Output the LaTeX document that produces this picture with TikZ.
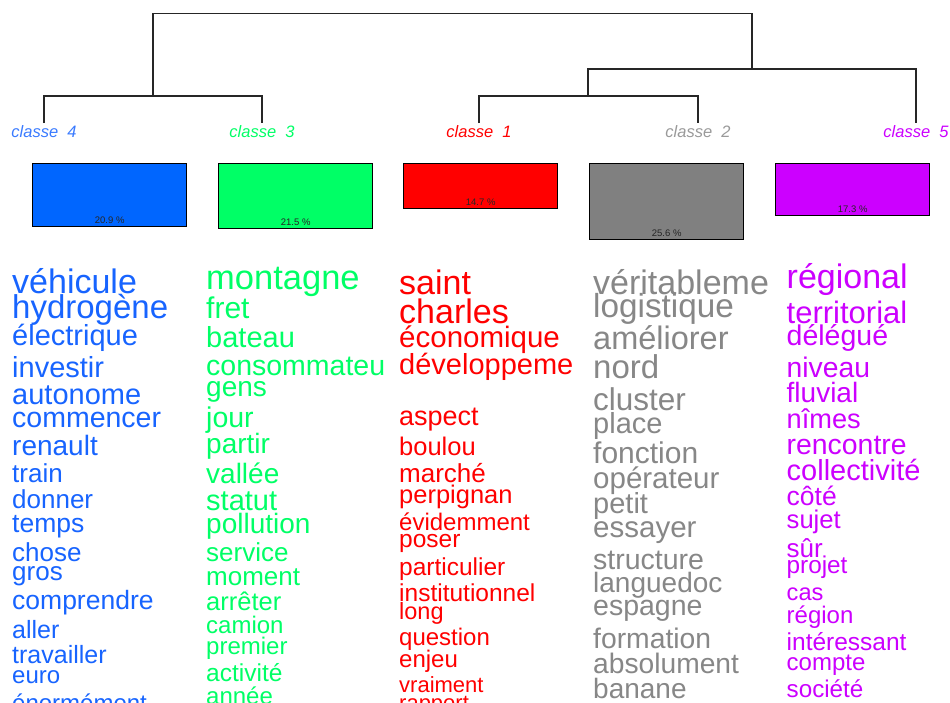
\documentclass[tikz,border=0pt]{standalone}
\usepackage{fontspec}
\setmainfont{Liberation Sans}
\newcommand\fsz[1]{\fontsize{#1}{#1}\selectfont}
\definecolor{cblue}{HTML}{0066FF}
\definecolor{tblue}{HTML}{1764FF}
\definecolor{cgreen}{HTML}{00FF66}
\definecolor{cred}{HTML}{FF0000}
\definecolor{cgray}{HTML}{808080}
\definecolor{tgray}{HTML}{878787}
\definecolor{lgray}{HTML}{9A9A9A}
\definecolor{cpurple}{HTML}{CC00FF}
\begin{document}
\begin{tikzpicture}[x=1pt,y=-1pt,
  tree/.style={line width=1.3pt,black!85},
  cls/.style={font=\fsz{16.5}\itshape,inner sep=0,anchor=base},
  bar/.style={draw=black,line width=1.4pt,anchor=north west,inner sep=0,minimum width=154pt},
  pct/.style={font=\fsz{9.5},inner sep=0,anchor=base,text=black!85},
  wrd/.style={inner sep=0,anchor=base west}]
\useasboundingbox (0,0) rectangle (950,702);
\fill[white] (0,0) rectangle (950,702);
% dendrogram
\coordinate (l4) at (44,123);
\coordinate (l3) at (262,123);
\coordinate (l1) at (479,123);
\coordinate (l2) at (698,123);
\coordinate (l5) at (916,123);
\coordinate (j43) at (153,96);
\coordinate (j12) at (588,96);
\coordinate (j125) at (752,69);
\coordinate (jtop) at (452,13.5);
\draw[tree] (l4) |- (j43) -| (l3);
\draw[tree] (l1) |- (j12) -| (l2);
\draw[tree] (j12) |- (j125) -| (l5);
\draw[tree] (j43) |- (jtop) -| (j125);
% class labels
\node[cls,text=tblue!85] (k4) at (44,137) {classe~~4};
\node[cls,text=cgreen] (k3) at (262,137) {classe~~3};
\node[cls,text=cred] (k1) at (479,137) {classe~~1};
\node[cls,text=lgray] (k2) at (698,137) {classe~~2};
\node[cls,text=cpurple] (k5) at (916,137) {classe~~5};
% bars
\node[bar,fill=cblue,minimum height=63pt] (b4) at (32,163) {};
\node[bar,fill=cgreen,minimum height=65pt] (b3) at (218,163) {};
\node[bar,fill=cred,minimum height=45pt] (b1) at (403,163) {};
\node[bar,fill=cgray,minimum height=76pt] (b2) at (589,163) {};
\node[bar,fill=cpurple,minimum height=52pt] (b5) at (775,163) {};
\node[pct] (p4) at ([yshift=4pt]b4.south) {20.9 \%};
\node[pct] (p3) at ([yshift=4pt]b3.south) {21.5 \%};
\node[pct] (p1) at ([yshift=4pt]b1.south) {14.7 \%};
\node[pct] (p2) at ([yshift=4pt]b2.south) {25.6 \%};
\node[pct] (p5) at ([yshift=4pt]b5.south) {17.3 \%};
% column classe 4
\begin{scope}
\clip (0,250) rectangle (190,702);
\begin{scope}[every node/.append style={wrd,text=tblue}]
\node[font=\fsz{34}] (a1) at (12,293) {véhicule};
\node[font=\fsz{33}] (a2) at (12,318) {hydrogène};
\node[font=\fsz{29}] (a3) at (12,345) {électrique};
\node[font=\fsz{29}] (a4) at (12,377) {investir};
\node[font=\fsz{29}] (a5) at (12,404) {autonome};
\node[font=\fsz{28.5}] (a6) at (12,427) {commencer};
\node[font=\fsz{28}] (a7) at (12,455) {renault};
\node[font=\fsz{26}] (a8) at (12,482.5) {train};
\node[font=\fsz{26}] (a9) at (12,508) {donner};
\node[font=\fsz{26.5}] (a10) at (12,532) {temps};
\node[font=\fsz{26}] (a11) at (12,561) {chose};
\node[font=\fsz{26}] (a12) at (12,580) {gros};
\node[font=\fsz{26.5}] (a13) at (12,609) {comprendre};
\node[font=\fsz{25}] (a14) at (12,638) {aller};
\node[font=\fsz{25}] (a15) at (12,663) {travailler};
\node[font=\fsz{24}] (a16) at (12,683.5) {euro};
\node[font=\fsz{24}] (a17) at (12,711) {énormément};
\end{scope}
\end{scope}
% column classe 3
\begin{scope}
\clip (190,250) rectangle (383,702);
\begin{scope}[every node/.append style={wrd,text=cgreen}]
\node[font=\fsz{34.5}] (g1) at (206,289.5) {montagne};
\node[font=\fsz{30}] (g2) at (206,318.5) {fret};
\node[font=\fsz{29}] (g3) at (206,347) {bateau};
\node[font=\fsz{28.5}] (g4) at (206,375) {consommateur};
\node[font=\fsz{28}] (g5) at (206,396) {gens};
\node[font=\fsz{28.5}] (g6) at (206,427) {jour};
\node[font=\fsz{28}] (g7) at (206,453.5) {partir};
\node[font=\fsz{28}] (g8) at (206,483) {vallée};
\node[font=\fsz{29}] (g9) at (206,510) {statut};
\node[font=\fsz{28}] (g10) at (206,533.5) {pollution};
\node[font=\fsz{26}] (g11) at (206,561) {service};
\node[font=\fsz{26}] (g12) at (206,585) {moment};
\node[font=\fsz{25.5}] (g13) at (206,610) {arrêter};
\node[font=\fsz{24}] (g14) at (206,633.5) {camion};
\node[font=\fsz{24}] (g15) at (206,654) {premier};
\node[font=\fsz{24.5}] (g16) at (206,681) {activité};
\node[font=\fsz{24}] (g17) at (206,704) {année};
\end{scope}
\end{scope}
% column classe 1
\begin{scope}
\clip (383,250) rectangle (574,702);
\begin{scope}[every node/.append style={wrd,text=cred}]
\node[font=\fsz{34}] (r1) at (399,294) {saint};
\node[font=\fsz{34}] (r2) at (399,323.5) {charles};
\node[font=\fsz{29.5}] (r3) at (399,347) {économique};
\node[font=\fsz{29}] (r4) at (399,374) {développement};
\node[font=\fsz{27}] (r5) at (399,425) {aspect};
\node[font=\fsz{25.5}] (r6) at (399,455) {boulou};
\node[font=\fsz{26}] (r7) at (399,482) {marché};
\node[font=\fsz{25.5}] (r8) at (399,503.5) {perpignan};
\node[font=\fsz{24}] (r9) at (399,530) {évidemment};
\node[font=\fsz{24.5}] (r10) at (399,547.5) {poser};
\node[font=\fsz{24.5}] (r11) at (399,575) {particulier};
\node[font=\fsz{24.5}] (r12) at (399,601) {institutionnel};
\node[font=\fsz{23.5}] (r13) at (399,619.5) {long};
\node[font=\fsz{24}] (r14) at (399,645) {question};
\node[font=\fsz{24}] (r15) at (399,667.5) {enjeu};
\node[font=\fsz{22}] (r16) at (399,692) {vraiment};
\node[font=\fsz{22}] (r17) at (399,710) {rapport};
\end{scope}
\end{scope}
% column classe 2
\begin{scope}
\clip (577,250) rectangle (769,702);
\begin{scope}[every node/.append style={wrd,text=tgray}]
\node[font=\fsz{34}] (s1) at (593,294) {véritablement};
\node[font=\fsz{33.3}] (s2) at (593,317) {logistique};
\node[font=\fsz{32.5}] (s3) at (593,349.5) {améliorer};
\node[font=\fsz{33}] (s4) at (593,378.5) {nord};
\node[font=\fsz{31.5}] (s5) at (593,410) {cluster};
\node[font=\fsz{29}] (s6) at (593,433) {place};
\node[font=\fsz{30}] (s7) at (593,463.5) {fonction};
\node[font=\fsz{29.5}] (s8) at (593,488.5) {opérateur};
\node[font=\fsz{29}] (s9) at (593,513.5) {petit};
\node[font=\fsz{29.5}] (s10) at (593,537) {essayer};
\node[font=\fsz{28.5}] (s11) at (593,569.5) {structure};
\node[font=\fsz{28}] (s12) at (593,592) {languedoc};
\node[font=\fsz{28.5}] (s13) at (593,615) {espagne};
\node[font=\fsz{28.3}] (s14) at (593,648.5) {formation};
\node[font=\fsz{28.2}] (s15) at (593,673.5) {absolument};
\node[font=\fsz{28}] (s16) at (593,698.5) {banane};
\end{scope}
\end{scope}
% column classe 5
\begin{scope}
\clip (771,250) rectangle (950,702);
\begin{scope}[every node/.append style={wrd,text=cpurple}]
\node[font=\fsz{34}] (v1) at (786.5,288.5) {régional};
\node[font=\fsz{31}] (v2) at (786.5,323) {territorial};
\node[font=\fsz{28.5}] (v3) at (786.5,345) {délégué};
\node[font=\fsz{28.3}] (v4) at (786.5,377) {niveau};
\node[font=\fsz{28}] (v5) at (786.5,402) {fluvial};
\node[font=\fsz{27.2}] (v6) at (786.5,428.5) {nîmes};
\node[font=\fsz{28.4}] (v7) at (786.5,454) {rencontre};
\node[font=\fsz{29}] (v8) at (786.5,480) {collectivité};
\node[font=\fsz{26.5}] (v9) at (786.5,505) {côté};
\node[font=\fsz{25.6}] (v10) at (786.5,528.5) {sujet};
\node[font=\fsz{26}] (v11) at (786.5,557) {sûr};
\node[font=\fsz{24.3}] (v12) at (786.5,573) {projet};
\node[font=\fsz{23.6}] (v13) at (786.5,600) {cas};
\node[font=\fsz{24}] (v14) at (786.5,623) {région};
\node[font=\fsz{24.5}] (v15) at (786.5,650) {intéressant};
\node[font=\fsz{24}] (v16) at (786.5,670) {compte};
\node[font=\fsz{24.2}] (v17) at (786.5,697) {société};
\end{scope}
\end{scope}
\end{tikzpicture}
\end{document}
